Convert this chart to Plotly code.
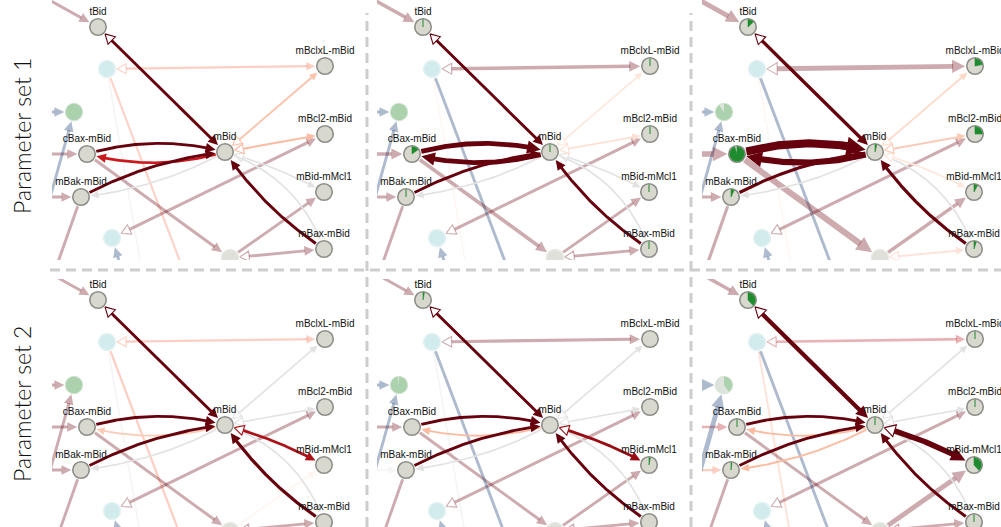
import numpy as np
import plotly.graph_objects as go

W, H = 1001, 527

# ---------------- network layout (panel-local pixel coordinates) ----------------
node_names = ["tBid", "mBclxL-mBid", "mBcl2-mBid", "mBid-mMcl1", "mBax-mBid",
              "cBax-mBid", "mBak-mBid", "mBid",
              "cyanTop", "greenN", "cyanBot", "grayBot",
              "ext_tl", "ext_l1", "ext_l2", "ext_l3", "ext_bl", "ext_b2", "ext_b3", "ext_b4", "ext_b5"]
node_x = [58, 285, 285, 284, 284, 47, 41, 185,
          67, 34, 72, 190,
          -25, -30, -30, -30, -27, -6, 166, 112, 88]
node_y = [27, 66, 134, 192, 249, 154, 197, 152,
          69, 112, 238, 258,
          -19, 154, 197, 112, 330, 330, 330, 330, 290]
labelled_nodes = [0, 1, 2, 3, 4, 5, 6, 7]

# ---------------- edges ----------------
edge_src = [12, 0, 8, 7, 7, 5, 7, 6, 4, 7, 7, 7, 10, 5, 11, 11, 13, 14, 15, 16, 6, 8, 8, 20]
edge_dst = [0, 7, 1, 1, 2, 7, 5, 7, 7, 3, 4, 6, 2, 11, 3, 4, 5, 6, 9, 9, 17, 18, 19, 10]
edge_bend = [0, 0, 0, 0, 0, -0.07, -0.07, -0.05, -0.05, -0.03, -0.12, -0.05,
             0, 0, 0, 0, 0, 0, 0, 0, 0, 0, 0, 0]
edge_rev = [0, 1, 1, 1, 1, 0, 0, 0, 0, 1, 0, 0, 1, 0, 0, 1, 0, 0, 0, 0, 0, 0, 0, 0]

# fluxes per panel (row, column)
flux_r1c1 = [1.0, 1.0, 0.5, 0.22, 0.25, 1.0, 0.75, 1.0, 1.0, 0.03, 0.03, 0.04,
             1.0, 1.0, 1.0, 1.0, 1.0, 1.0, -1.0, -1.0, 1.0, 0.45, 0.03, -1.0]
flux_r1c2 = [1.5, 1.0, 1.5, 0.08, 0.12, 2.5, 2.5, 1.0, 1.0, 0.04, 0.04, 0.05,
             1.0, 1.5, 1.0, 1.0, 1.5, 1.0, -1.0, -1.0, 1.0, -1.0, 0.08, -1.0]
flux_r1c3 = [2.5, 1.3, 2.5, 0.15, 0.2, 5.0, 3.5, 1.2, 1.2, 0.08, 0.04, 0.05,
             1.2, 3.5, 1.5, 0.3, 3.0, 1.2, -1.0, -1.0, 1.2, -1.0, 0.08, -1.0]
flux_r2c1 = [1.0, 1.0, 0.5, 0.03, 0.03, 1.0, 0.2, 1.0, 1.2, 0.85, 0.03, 0.05,
             1.0, 1.0, 0.1, 1.0, 1.0, 1.0, 1.0, 1.0, 1.0, 0.5, 0.03, -1.0]
flux_r2c2 = [1.0, 1.0, 1.2, 0.03, 0.04, 1.0, 0.25, 1.0, 1.0, 0.9, 0.03, 0.05,
             1.0, 1.0, 1.0, 1.0, 1.0, 0.05, -1.0, -1.0, 1.0, -1.0, 0.05, -1.0]
flux_r2c3 = [1.5, 2.0, 0.8, 0.03, 0.04, 1.0, 0.25, 1.0, 1.0, 3.0, 0.03, 0.25,
             1.0, 1.0, 2.5, 1.0, 0.8, 0.5, -2.5, -2.5, 1.0, -1.0, 0.3, -1.0]

# green fraction of the labelled nodes (tBid, mBclxL, mBcl2, mMcl1, mBax, cBax, mBak, mBid)
frac_r1c1 = [0, 0, 0, 0, 0, 0, 0, 0]
frac_r1c2 = [0.012, 0.012, 0.012, 0.012, 0.012, 0.15, 0.012, 0.012]
frac_r1c3 = [0.13, 0.22, 0.25, 0.08, 0.05, 0.95, 0.07, 0.04]
frac_r2c1 = [0, 0, 0, 0, 0, 0, 0, 0]
frac_r2c2 = [0.03, 0, 0, 0.03, 0, 0, 0, 0]
frac_r2c3 = [0.38, 0.01, 0.01, 0.38, 0.01, 0.01, 0.02, 0.01]
green_node_frac = [1.0, 1.0, 0.9, 1.0, 0.97, 0.4]

row_titles = ["Parameter set 1", "Parameter set 2"]

panel_flux = [[flux_r1c1, flux_r1c2, flux_r1c3], [flux_r2c1, flux_r2c2, flux_r2c3]]
panel_frac = [[frac_r1c1, frac_r1c2, frac_r1c3], [frac_r2c1, frac_r2c2, frac_r2c3]]

# ---------------- styling ----------------
REDS = [(255, 245, 240), (254, 224, 210), (252, 187, 161), (252, 146, 114), (251, 106, 74),
        (239, 59, 44), (203, 24, 29), (165, 15, 21), (103, 0, 13)]
BLUES = [(247, 251, 255), (222, 235, 247), (198, 219, 239), (158, 202, 225), (107, 174, 214),
         (66, 146, 198), (33, 113, 181), (8, 81, 156), (8, 48, 107)]


def interp(scale, v):
    v = min(max(v, 0.0), 1.0) * (len(scale) - 1)
    i = int(np.floor(v))
    if i >= len(scale) - 1:
        return scale[-1]
    t = v - i
    a, b = scale[i], scale[i + 1]
    return tuple(int(round(a[k] + (b[k] - a[k]) * t)) for k in range(3))


def edge_rgb(f):
    a = abs(f)
    if a < 0.06:
        return (226, 226, 226)
    return interp(REDS if f > 0 else BLUES, a)


def rgba(c, a):
    return f"rgba({c[0]},{c[1]},{c[2]},{a})"


def node_radius(i):
    return 9.0 if i < 12 else 0.0


def bezier(p0, p2, bend, n=400):
    p0 = np.array(p0, float)
    p2 = np.array(p2, float)
    d = p2 - p0
    L = np.hypot(*d)
    nrm = np.array([-d[1], d[0]]) / L
    c = (p0 + p2) / 2 + nrm * 2 * bend * L
    t = np.linspace(0, 1, n)[:, None]
    return (1 - t) ** 2 * p0 + 2 * (1 - t) * t * c + t ** 2 * p2


def idx_from_end(pts, center, dist):
    dd = np.hypot(*(pts - center).T)
    idx = np.where(dd >= dist)[0]
    return idx[-1] if len(idx) else 0


def idx_from_start(pts, center, dist):
    dd = np.hypot(*(pts - center).T)
    idx = np.where(dd >= dist)[0]
    return idx[0] if len(idx) else len(pts) - 1


def triangle(tip, base, hw):
    u = tip - base
    u = u / (np.hypot(*u) + 1e-9)
    p = np.array([-u[1], u[0]])
    a = base + p * hw
    b = base - p * hw
    return [tip[0], a[0], b[0], tip[0]], [tip[1], a[1], b[1], tip[1]]


col_ox = [40, 365, 690]
col_xl = [12, 12, 12]
col_xr = [325, 325, 311]
row_oy = [0, 273]
row_yt = [0, 6]
row_yb = [260, 254]

fig = go.Figure()
layout_axes = {}

for r in range(2):
    for c in range(3):
        k = r * 3 + c + 1
        xa = "x" if k == 1 else f"x{k}"
        ya = "y" if k == 1 else f"y{k}"
        xname = "xaxis" if k == 1 else f"xaxis{k}"
        yname = "yaxis" if k == 1 else f"yaxis{k}"
        ox, oy = col_ox[c], row_oy[r]
        layout_axes[xname] = dict(domain=[(ox + col_xl[c]) / W, min(1.0, (ox + col_xr[c]) / W)],
                                  range=[col_xl[c], col_xr[c]], visible=False,
                                  anchor=ya, fixedrange=True)
        layout_axes[yname] = dict(domain=[1 - (oy + row_yb[r]) / H, 1 - (oy + row_yt[r]) / H],
                                  range=[row_yb[r], row_yt[r]], visible=False,
                                  anchor=xa, fixedrange=True)

        flux = panel_flux[r][c]
        frac = panel_frac[r][c]

        def add(tr):
            tr.update(xaxis=xa, yaxis=ya, showlegend=False, hoverinfo="skip")
            fig.add_trace(tr)

        order = sorted(range(len(edge_src)),
                       key=lambda e: ((7 in (edge_src[e], edge_dst[e])), abs(flux[e])))
        for e in order:
            s, d = edge_src[e], edge_dst[e]
            f = flux[e]
            faded = 7 not in (s, d)
            alpha = 0.33 if faded else 1.0
            col = edge_rgb(f)
            w = 1.6 + 1.3 * abs(f)
            ps = np.array([node_x[s], node_y[s]], float)
            pd_ = np.array([node_x[d], node_y[d]], float)
            pts = bezier(ps, pd_, edge_bend[e])
            Rs, Rd = node_radius(s), node_radius(d)
            Lh = 5 + 1.7 * w
            hw = 2.2 + 0.9 * w
            Lo = 8 + 0.5 * w
            hwo = 4 + 0.4 * w
            if Rd > 0:
                ti = idx_from_end(pts, pd_, Rd + 0.6)
                bi = idx_from_end(pts, pd_, Rd + 0.6 + Lh)
                end_i = min(bi + 2, len(pts) - 1)
            else:
                end_i = len(pts) - 1
            if Rs > 0:
                if edge_rev[e]:
                    oti = idx_from_start(pts, ps, Rs + 0.6)
                    obi = idx_from_start(pts, ps, Rs + 0.6 + Lo)
                    start_i = obi
                else:
                    start_i = idx_from_start(pts, ps, Rs + 0.6)
            else:
                start_i = 0
            seg = pts[start_i:end_i + 1]
            add(go.Scatter(x=seg[:, 0], y=seg[:, 1], mode="lines",
                           line=dict(color=rgba(col, alpha), width=w)))
            if Rd > 0:
                tx, ty = triangle(pts[ti], pts[bi], hw)
                add(go.Scatter(x=tx, y=ty, mode="lines", fill="toself",
                               fillcolor=rgba(col, alpha), line=dict(width=0, color=rgba(col, 0))))
            if Rs > 0 and edge_rev[e]:
                tx, ty = triangle(pts[oti], pts[obi], hwo)
                add(go.Scatter(x=tx, y=ty, mode="lines", fill="toself",
                               fillcolor="white", line=dict(width=1.1, color=rgba(col, alpha))))

        # faded nodes
        for nm, ni, fc, lc in [("cyanTop", 8, "#d2ebed", "#e4f2f3"), ("cyanBot", 10, "#d2ebed", "#e4f2f3"),
                               ("grayBot", 11, "#e0e0da", "#e9e9e4"), ("greenN", 9, "#dfe3dd", "#d6e6d6")]:
            add(go.Scatter(x=[node_x[ni]], y=[node_y[ni]], mode="markers",
                           marker=dict(size=17, color=fc, line=dict(color=lc, width=1.5))))
        gf = green_node_frac[r * 3 + c]
        th = np.linspace(0, 2 * np.pi * gf, 80)
        rr = 8.3
        gx = [node_x[9]] + list(node_x[9] + rr * np.sin(th)) + [node_x[9]]
        gy = [node_y[9]] + list(node_y[9] - rr * np.cos(th)) + [node_y[9]]
        add(go.Scatter(x=gx, y=gy, mode="lines", fill="toself", fillcolor="#acd1ad",
                       line=dict(width=0, color="rgba(0,0,0,0)")))

        # labelled nodes
        add(go.Scatter(x=[node_x[i] for i in labelled_nodes], y=[node_y[i] for i in labelled_nodes],
                       mode="markers",
                       marker=dict(size=16.5, color="#d9d8cf", line=dict(color="#8e8e89", width=1.6))))
        for j, i in enumerate(labelled_nodes):
            fr = frac[j]
            if fr <= 0:
                continue
            th = np.linspace(0, 2 * np.pi * fr, max(4, int(80 * fr) + 2))
            rr = 7.4
            wx = [node_x[i]] + list(node_x[i] + rr * np.sin(th)) + [node_x[i]]
            wy = [node_y[i]] + list(node_y[i] - rr * np.cos(th)) + [node_y[i]]
            add(go.Scatter(x=wx, y=wy, mode="lines", fill="toself", fillcolor="#1e8c2e",
                           line=dict(width=0.6, color="#1e8c2e")))
        add(go.Scatter(x=[node_x[i] for i in labelled_nodes],
                       y=[node_y[i] - 14.5 for i in labelled_nodes],
                       mode="text", text=[node_names[i] for i in labelled_nodes],
                       textposition="middle center",
                       textfont=dict(family="Liberation Sans, Arial", size=10, color="#111111")))

shapes = []
dash_style = dict(color="#cdcdcd", width=3, dash="10px,6px")
shapes.append(dict(type="line", xref="paper", yref="paper", x0=50 / W, x1=1, y0=1 - 270 / H, y1=1 - 270 / H,
                   line=dash_style, layer="below"))
for xv in [367, 691]:
    shapes.append(dict(type="line", xref="paper", yref="paper", x0=xv / W, x1=xv / W,
                       y0=0, y1=1 - 13 / H, line=dash_style, layer="below"))

annotations = []
for r, (t, yc) in enumerate(zip(row_titles, [136, 404])):
    annotations.append(dict(text=t, x=22 / W, y=1 - yc / H, xref="paper", yref="paper",
                            showarrow=False, textangle=-90, xanchor="center", yanchor="middle",
                            font=dict(family="Lato, Open Sans, sans-serif", size=23, color="#111111",
                                      weight=300)))

fig.update_layout(width=W, height=H, margin=dict(l=0, r=0, t=0, b=0),
                  paper_bgcolor="white", plot_bgcolor="rgba(0,0,0,0)",
                  shapes=shapes, annotations=annotations, **layout_axes)

fig.write_html("out.html")
